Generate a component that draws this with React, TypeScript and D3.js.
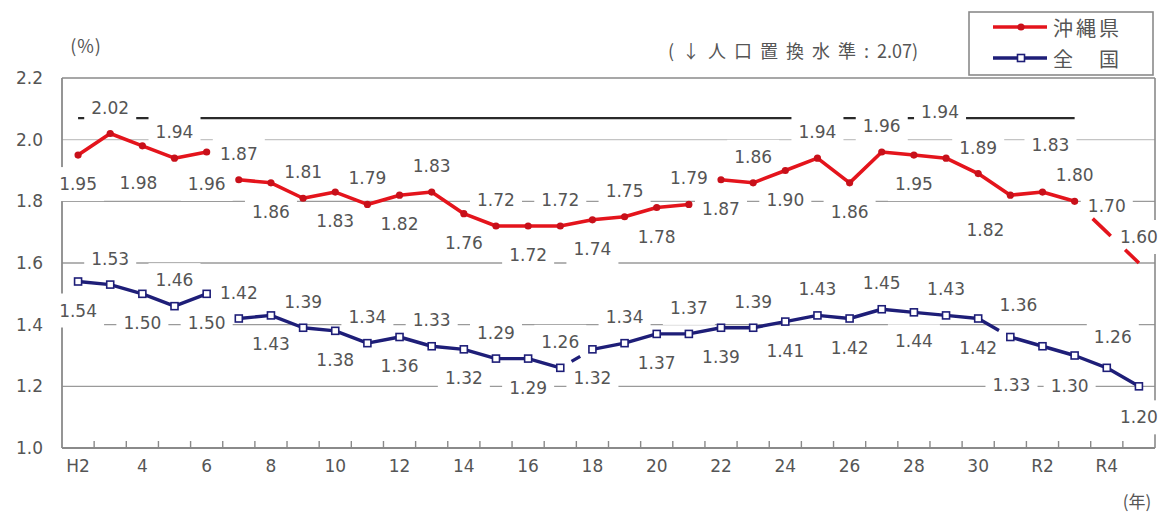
import * as d3 from "d3"

// fiscal years, Heisei 2 .. Reiwa 5
const YEARS = [
  "H2", "H3", "H4", "H5", "H6", "H7", "H8", "H9", "H10", "H11",
  "H12", "H13", "H14", "H15", "H16", "H17", "H18", "H19", "H20", "H21",
  "H22", "H23", "H24", "H25", "H26", "H27", "H28", "H29", "H30",
  "R1", "R2", "R3", "R4", "R5",
]

const OKINAWA = [
  1.95, 2.02, 1.98, 1.94, 1.96, 1.87, 1.86, 1.81, 1.83, 1.79,
  1.82, 1.83, 1.76, 1.72, 1.72, 1.72, 1.74, 1.75, 1.78, 1.79,
  1.87, 1.86, 1.90, 1.94, 1.86, 1.96, 1.95, 1.94, 1.89,
  1.82, 1.83, 1.80, 1.70, 1.60,
]

const NATIONAL = [
  1.54, 1.53, 1.50, 1.46, 1.50, 1.42, 1.43, 1.39, 1.38, 1.34,
  1.36, 1.33, 1.32, 1.29, 1.29, 1.26, 1.32, 1.34, 1.37, 1.37,
  1.39, 1.39, 1.41, 1.43, 1.42, 1.45, 1.44, 1.43, 1.42,
  1.36, 1.33, 1.30, 1.26, 1.20,
]

const REPLACEMENT_LEVEL = 2.07
const REPLACEMENT_END = "R3"

const Y_TICKS = [1.0, 1.2, 1.4, 1.6, 1.8, 2.0, 2.2]
const X_TICK_YEARS = ["H2", "H4", "H6", "H8", "H10", "H12", "H14", "H16", "H18", "H20", "H22", "H24", "H26", "H28", "H30", "R2", "R4"]
const X_TICK_TEXT = ["H2", "4", "6", "8", "10", "12", "14", "16", "18", "20", "22", "24", "26", "28", "30", "R2", "R4"]

// ---- layout / style (not data) ----
const W = 1167
const H = 514
const L = 62
const R = 1155
const T = 78
const B = 448

const RED = "#e4141c"
const RED_DARK = "#c8101a"
const NAVY = "#1e1e78"
const TXT = "#555"
const GRID = "#9a9a9a"
const NUM_FONT = "'DejaVu Sans', sans-serif"
const JP_FONT = "'Noto Sans CJK JP', sans-serif"

// label side per point: a = above, b = below
const OKI_SIDE = "ba".repeat(14) + "abaaaa"
const NAT_SIDE = "ba".repeat(15) + "bbab"
const OKI_NUDGE: Record<number, [number, number]> = {
  2: [-4, 37], 4: [0, 32], 27: [-6, -46], 29: [-25, 35], 30: [8, -47],
}
const NAT_NUDGE: Record<number, [number, number]> = {
  29: [8, -32], 30: [-31, 39], 31: [-5, 30], 32: [6, -31], 33: [0, 31],
}

// drawn pieces of each line: [from, to, dasharray]
type Seg = [number, number, string | null]
const OKI_SEGS: Seg[] = [[0, 4, null], [5, 19, null], [20, 31, null], [31, 33, "0 25 25 20 40"]]
const NAT_SEGS: Seg[] = [[0, 4, null], [5, 15, null], [15, 16, "0 13 10 100"], [16, 28, null], [28, 29, "24 100"], [29, 33, null]]
const OKI_NO_MARK = [32, 33]

export default function App() {
  const x = d3.scaleBand<string>().domain(YEARS).range([L, R])
  const cx = (k: string) => (x(k) ?? 0) + x.bandwidth() / 2
  const y = d3.scaleLinear().domain([1.0, 2.2]).range([B, T])

  const segPath = (vals: number[], s: Seg) => {
    const pts: [number, number][] = d3.range(s[0], s[1] + 1).map((i) => [cx(YEARS[i]), y(vals[i])])
    return d3.line()(pts) ?? ""
  }

  const labelPos = (vals: number[], side: string, nudge: Record<number, [number, number]>) =>
    vals.map((v, i) => {
      const [dx, dy] = nudge[i] ?? (side[i] === "a" ? [0, -26] : [0, 29])
      return { x: cx(YEARS[i]) + dx, y: y(v) + dy, t: v.toFixed(2) }
    })

  const labels = [...labelPos(OKINAWA, OKI_SIDE, OKI_NUDGE), ...labelPos(NATIONAL, NAT_SIDE, NAT_NUDGE)]

  return (
    <svg
      width={W}
      height={H}
      viewBox={`0 0 ${W} ${H}`}
      style={{ position: "absolute", left: 0, top: 0, background: "#fff" }}
    >
      <rect width={W} height={H} fill="#fff" />

      {/* gridlines */}
      {Y_TICKS.filter((t) => t > 1.0 && t < 2.2).map((t) => (
        <line key={t} x1={L} x2={R} y1={y(t)} y2={y(t)} stroke={t === 2.0 ? "#c4c4c4" : GRID} strokeWidth={1.4} />
      ))}

      {/* frame */}
      <line x1={L} x2={R} y1={T} y2={T} stroke="#8a8a8a" strokeWidth={1.6} />
      <line x1={R} x2={R} y1={T} y2={B} stroke="#8a8a8a" strokeWidth={1.6} />
      <line x1={L} x2={L} y1={T} y2={B} stroke="#8a8a8a" strokeWidth={1.8} />
      <line x1={L} x2={R} y1={B} y2={B} stroke="#8a8a8a" strokeWidth={1.8} />
      {YEARS.slice(1).map((k) => (
        <line key={k} x1={x(k)} x2={x(k)} y1={B} y2={B - 7} stroke="#8a8a8a" strokeWidth={1.4} />
      ))}

      {/* replacement level 2.07 */}
      <line
        x1={cx(YEARS[0])}
        x2={cx(REPLACEMENT_END)}
        y1={y(REPLACEMENT_LEVEL)}
        y2={y(REPLACEMENT_LEVEL)}
        stroke="#2a2a2a"
        strokeWidth={2.2}
      />

      {/* data label backgrounds hide grid and frame */}
      {labels.map((d, i) => (
        <rect key={i} x={d.x - 26} y={d.y - 17} width={52} height={34} fill="#fff" />
      ))}
      {labels.map((d, i) => (
        <text
          key={i}
          x={d.x}
          y={d.y}
          textAnchor="middle"
          dominantBaseline="central"
          fontFamily={NUM_FONT}
          fontSize={17}
          fill={TXT}
        >
          {d.t}
        </text>
      ))}

      {/* axis labels */}
      {Y_TICKS.map((t) => (
        <text
          key={t}
          x={43}
          y={y(t)}
          textAnchor="end"
          dominantBaseline="central"
          fontFamily={NUM_FONT}
          fontSize={17}
          fill={TXT}
        >
          {t.toFixed(1)}
        </text>
      ))}
      {X_TICK_YEARS.map((k, i) => (
        <text
          key={k}
          x={cx(k)}
          y={466}
          textAnchor="middle"
          dominantBaseline="central"
          fontFamily={NUM_FONT}
          fontSize={17}
          fill={TXT}
        >
          {X_TICK_TEXT[i]}
        </text>
      ))}
      <text x={86} y={45} textAnchor="middle" dominantBaseline="central" fontFamily={JP_FONT} fontSize={18} letterSpacing={1} fill={TXT}>
        (%)
      </text>
      <text x={1137} y={500} textAnchor="middle" dominantBaseline="central" fontFamily={JP_FONT} fontSize={17} fill={TXT}>
        (年)
      </text>
      <text x={668} y={50} dominantBaseline="central" fontFamily={JP_FONT} fontSize={18} fill={TXT}>
        <tspan letterSpacing={8}>(↓人口置換水準:</tspan>
        <tspan letterSpacing={0}>2.07)</tspan>
      </text>

      {/* series */}
      {OKI_SEGS.map((s, i) => (
        <path
          key={`o${i}`}
          d={segPath(OKINAWA, s)}
          fill="none"
          stroke={RED}
          strokeWidth={3.6}
          strokeLinejoin="round"
          strokeDasharray={s[2] ?? undefined}
        />
      ))}
      {OKINAWA.map((v, i) =>
        OKI_NO_MARK.includes(i) ? null : (
          <circle key={`om${i}`} cx={cx(YEARS[i])} cy={y(v)} r={3.6} fill={RED_DARK} />
        )
      )}
      {NAT_SEGS.map((s, i) => (
        <path
          key={`n${i}`}
          d={segPath(NATIONAL, s)}
          fill="none"
          stroke={NAVY}
          strokeWidth={3.4}
          strokeLinejoin="round"
          strokeDasharray={s[2] ?? undefined}
        />
      ))}
      {NATIONAL.map((v, i) => (
        <rect
          key={`nm${i}`}
          x={cx(YEARS[i]) - 3.5}
          y={y(v) - 3.5}
          width={7}
          height={7}
          fill="#fff"
          stroke={NAVY}
          strokeWidth={1.6}
        />
      ))}

      {/* legend */}
      <g>
        <rect x={969} y={12} width={184} height={63} fill="#fff" stroke="#8a8a8a" strokeWidth={1.6} />
        <line x1={993} x2={1047} y1={27} y2={27} stroke={RED} strokeWidth={3.6} />
        <circle cx={1021} cy={27} r={3.6} fill={RED_DARK} />
        <text x={1053} y={27} dominantBaseline="central" fontFamily={JP_FONT} fontSize={20} fill={TXT} letterSpacing={3}>
          沖縄県
        </text>
        <line x1={993} x2={1047} y1={58} y2={58} stroke={NAVY} strokeWidth={3.4} />
        <rect x={1017.5} y={54.5} width={7} height={7} fill="#fff" stroke={NAVY} strokeWidth={1.6} />
        <text x={1053} y={58} dominantBaseline="central" fontFamily={JP_FONT} fontSize={20} fill={TXT} letterSpacing={3}>
          全　国
        </text>
      </g>
    </svg>
  )
}
